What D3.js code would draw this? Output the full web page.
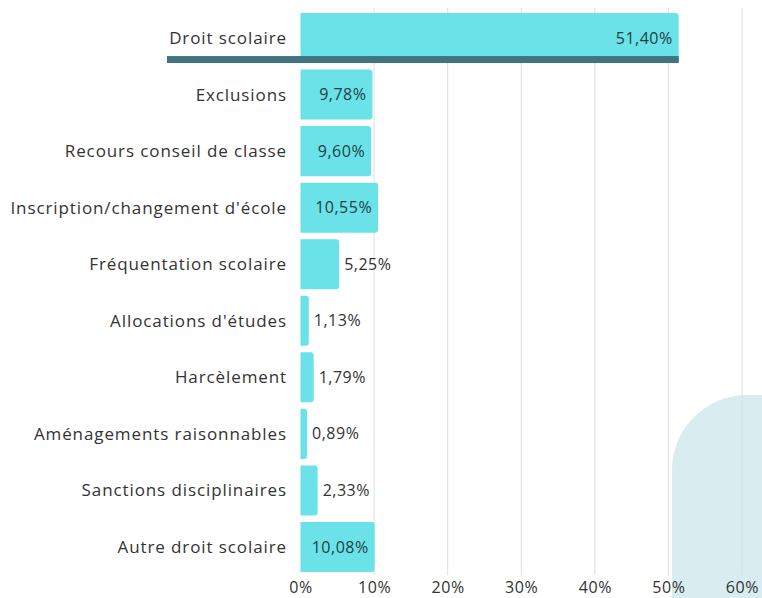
<!DOCTYPE html>
<html><head><meta charset="utf-8">
<script src="https://cdn.jsdelivr.net/npm/d3@7"></script>
<style>body{margin:0;background:#fff}svg{display:block}text{font-family:"Open Sans",sans-serif}</style>
</head><body><svg id="c" width="762" height="598"></svg>
<script>
const categories = ["Droit scolaire","Exclusions","Recours conseil de classe","Inscription/changement d'école","Fréquentation scolaire","Allocations d'études","Harcèlement","Aménagements raisonnables","Sanctions disciplinaires","Autre droit scolaire"];
const values = [51.40, 9.78, 9.60, 10.55, 5.25, 1.13, 1.79, 0.89, 2.33, 10.08];
const tickValues = [0,10,20,30,40,50,60];
const fmt = v => v.toFixed(2).replace(".", ",") + "%";

const svg = d3.select("#c");
const x = d3.scaleLinear().domain([0,60]).range([300.5,742]);
const y = d3.scaleBand().domain(categories).range([13,572]).paddingInner(0.115).paddingOuter(0);

// decorative shape
svg.append("path")
  .attr("d","M672,598 L672,470 A75,75 0 0 1 747,395 L770,395 L770,598 Z")
  .attr("fill","#d7edf0");

// gridlines
svg.append("g").selectAll("line").data(tickValues.filter(t=>t>0)).join("line")
  .attr("x1",d=>x(d)).attr("x2",d=>x(d)).attr("y1",8).attr("y2",575)
  .attr("stroke","#dedede").attr("stroke-width",1);

// bars
const r = 3;
svg.append("g").selectAll("path").data(values).join("path")
  .attr("d",(d,i)=>{
    const x0=x(0), x1=x(d), y0=y(categories[i]), h=y.bandwidth();
    const rr=Math.min(r,(x1-x0)/2);
    return `M${x0},${y0} H${x1-rr} Q${x1},${y0} ${x1},${y0+rr} V${y0+h-rr} Q${x1},${y0+h} ${x1-rr},${y0+h} H${x0} Z`;
  })
  .attr("fill","#6be2e8");

// highlight underline for the first category
svg.append("rect")
  .attr("x",167).attr("width",x(values[0])-167)
  .attr("y",y(categories[0])+y.bandwidth()-7).attr("height",7)
  .attr("fill","#41747e");

// category labels
svg.append("g").selectAll("text").data(categories).join("text")
  .attr("x",287).attr("y",d=>y(d)+y.bandwidth()/2)
  .attr("dy","0.35em").attr("text-anchor","end")
  .attr("font-size",17).attr("letter-spacing",0.9).attr("fill","#333")
  .text(d=>d);

// value labels
svg.append("g").selectAll("text").data(values).join("text")
  .each(function(d){
    const inside = d > 8;
    d3.select(this)
      .attr("x", inside ? x(d)-6 : x(d)+5)
      .attr("text-anchor", inside ? "end" : "start")
      .attr("fill", inside ? "#1d4146" : "#333");
  })
  .attr("y",(d,i)=>y(categories[i])+y.bandwidth()/2)
  .attr("dy","0.35em").attr("font-size",16).attr("letter-spacing",0.5)
  .text(d=>fmt(d));

// x axis labels
const ax = svg.append("g").attr("transform","translate(0,577)")
  .call(d3.axisBottom(x).tickValues(tickValues).tickFormat(d=>d+"%").tickSize(0).tickPadding(5));
ax.select(".domain").remove();
ax.selectAll("text").attr("font-size",16).attr("letter-spacing",0.6).attr("fill","#333").attr("font-family","Open Sans, sans-serif");
</script></body></html>
